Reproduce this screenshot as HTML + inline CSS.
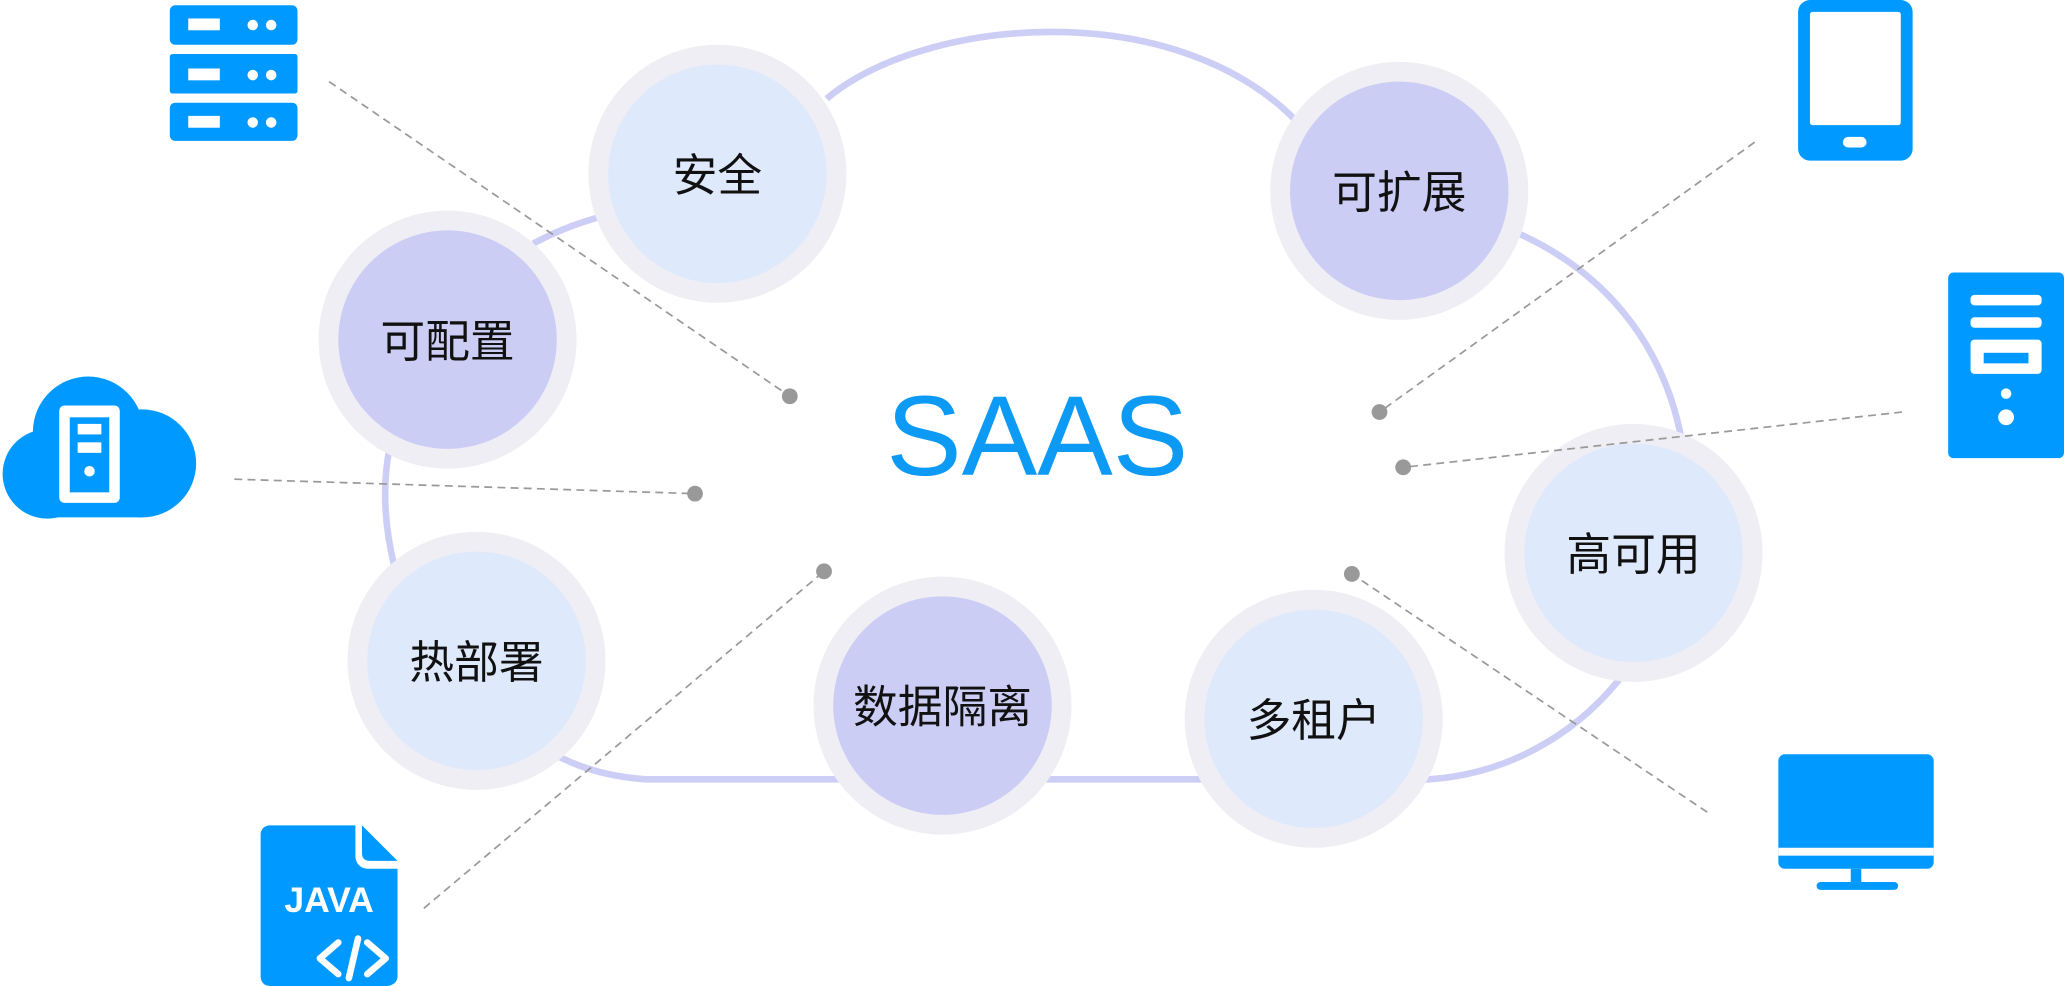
<!DOCTYPE html>
<html><head><meta charset="utf-8"><style>
html,body{margin:0;padding:0;background:#fff;width:2064px;height:986px;overflow:hidden}
svg{display:block}
text{font-family:"Liberation Sans","Noto Sans CJK SC",sans-serif}
</style></head><body>
<svg width="2064" height="986" viewBox="0 0 1568 749" xmlns="http://www.w3.org/2000/svg">
<g fill="none" stroke="#cdcef6" stroke-width="5">
<path d="M490 592 L1085 592 C1200 585 1290 480 1280 350 C1270 270 1225 210 1155 178"/>
<path d="M628 75 C700 14 890 -5 985 92"/>
<path d="M405 185 C430 172 445 168 455 165"/>
<path d="M296 340 C290 370 292 400 300 432"/>
<path d="M425 575 C445 585 465 590 490 592"/>
</g>
<g>
<circle cx="545" cy="132" r="98" fill="#efeef4"/><circle cx="545" cy="132" r="83" fill="#dfe9fc"/>
<circle cx="1063" cy="145" r="98" fill="#efeef4"/><circle cx="1063" cy="145" r="83" fill="#cccdf5"/>
<circle cx="340" cy="258" r="98" fill="#efeef4"/><circle cx="340" cy="258" r="83" fill="#cccdf5"/>
<circle cx="1241" cy="420" r="98" fill="#efeef4"/><circle cx="1241" cy="420" r="83" fill="#dfe9fc"/>
<circle cx="362" cy="502" r="98" fill="#efeef4"/><circle cx="362" cy="502" r="83" fill="#dfe9fc"/>
<circle cx="716" cy="536" r="98" fill="#efeef4"/><circle cx="716" cy="536" r="83" fill="#cccdf5"/>
<circle cx="998" cy="546" r="98" fill="#efeef4"/><circle cx="998" cy="546" r="83" fill="#dfe9fc"/>
</g>
<g stroke="#999" stroke-width="1.3" stroke-dasharray="6 4" fill="none">
<line x1="250" y1="62" x2="600" y2="301"/>
<line x1="178" y1="364" x2="528" y2="375"/>
<line x1="322" y1="690" x2="626" y2="434"/>
<line x1="1333" y1="108" x2="1048" y2="313"/>
<line x1="1445" y1="313" x2="1066" y2="355"/>
<line x1="1297" y1="617" x2="1027" y2="436"/>
</g>
<g font-size="34" fill="#111" text-anchor="middle">
<text x="545" y="145">安全</text>
<text x="1063" y="158">可扩展</text>
<text x="340" y="271">可配置</text>
<text x="1241" y="433">高可用</text>
<text x="362" y="515">热部署</text>
<text x="716" y="549">数据隔离</text>
<text x="998" y="559">多租户</text>
</g>
<text x="788" y="361" font-size="86" fill="#0d9af5" text-anchor="middle">SAAS</text>
<g fill="#999">
<circle cx="600" cy="301" r="6"/><circle cx="528" cy="375" r="6"/><circle cx="626" cy="434" r="6"/>
<circle cx="1048" cy="313" r="6"/><circle cx="1066" cy="355" r="6"/><circle cx="1027" cy="436" r="6"/>
</g>
<g fill="#0099ff">
<rect x="129" y="4" width="97" height="30" rx="4"/>
<rect x="129" y="41" width="97" height="30" rx="2"/>
<rect x="129" y="78" width="97" height="29" rx="4"/>
<circle cx="67" cy="328" r="42"/>
<circle cx="108" cy="352" r="41"/>
<circle cx="36" cy="360" r="34"/>
<rect x="36" y="340" width="72" height="53"/>
<rect x="1366" y="0" width="87" height="122" rx="9"/>
<rect x="1480" y="207" width="88" height="141" rx="4"/>
<rect x="1351" y="573" width="118" height="87" rx="5"/>
<rect x="1406" y="660" width="8" height="12"/>
<rect x="1380" y="670" width="62" height="6" rx="3"/>
<path d="M205 627 L270 627 L270 650 C270 656 274 660 280 660 L302 660 L302 742 C302 746 298 749 294 749 L205 749 C201 749 198 746 198 742 L198 634 C198 630 201 627 205 627 Z"/>
<path d="M275 627 L302 654 L281 654 C277 654 275 652 275 648 Z"/>
</g>
<g fill="#fff">
<rect x="143" y="14" width="24" height="9"/><circle cx="192" cy="19" r="4"/><circle cx="206" cy="19" r="4"/>
<rect x="143" y="52" width="24" height="9"/><circle cx="192" cy="57" r="4"/><circle cx="206" cy="57" r="4"/>
<rect x="143" y="88" width="24" height="9"/><circle cx="192" cy="93" r="4"/><circle cx="206" cy="93" r="4"/>
<rect x="45" y="308" width="46" height="74" rx="4"/>
<rect x="1375" y="9" width="69" height="86" rx="2"/>
<rect x="1400" y="104" width="18" height="8" rx="4"/>
<rect x="1497" y="224" width="54" height="8" rx="3"/>
<rect x="1497" y="241" width="54" height="8" rx="3"/>
<rect x="1497" y="258" width="54" height="26" rx="3"/>
<circle cx="1524" cy="299" r="4"/><circle cx="1524" cy="317" r="6"/>
<rect x="1351" y="644" width="118" height="6"/>
</g>
<g fill="#0099ff">
<rect x="53" y="317" width="30" height="57"/>
<rect x="1507" y="268" width="34" height="8"/>
</g>
<g fill="#fff">
<rect x="59" y="322" width="18" height="8"/><rect x="59" y="336" width="18" height="8"/><circle cx="68" cy="358" r="4"/>
</g>
<text x="250" y="693" font-size="27" font-weight="bold" fill="#fff" text-anchor="middle">JAVA</text>
<g stroke="#fff" stroke-width="5" fill="none" stroke-linecap="round" stroke-linejoin="round">
<polyline points="257,716 243,728 257,740"/>
<polyline points="279,716 293,728 279,740"/>
<line x1="272" y1="713" x2="265" y2="743"/>
</g>
</svg>
</body></html>
